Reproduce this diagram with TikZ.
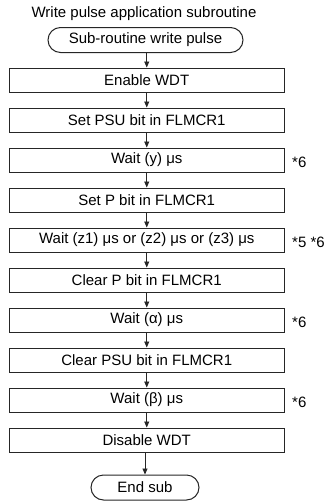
\documentclass[tikz,border=0pt]{standalone}
\usepackage{fontspec}
\setmainfont{Liberation Sans}
\usetikzlibrary{arrows.meta}
\begin{document}
\begin{tikzpicture}[x=1pt,y=-1pt,
  every node/.style={font=\fontsize{15}{17}\selectfont, inner sep=0pt},
  stepbox/.style={draw=black!85, line width=1pt, minimum width=274.5pt, minimum height=24pt},
  term/.style={draw=black!85, line width=1pt, rounded corners=12.5pt, minimum height=25pt},
  note/.style={anchor=west},
  flow/.style={draw=black!85, line width=0.9pt, -{Triangle[length=6pt,width=5pt]}}]
\useasboundingbox (0,0) rectangle (328,501);
\node (title) at (144,14) {Write pulse application subroutine};
\node[term, minimum width=195pt] (start) at (145.5,40) {Sub-routine write pulse};
\node[stepbox] (b1) at (146.75,80) {Enable WDT};
\node[stepbox] (b2) at (146.75,120) {Set PSU bit in FLMCR1};
\node[stepbox] (b3) at (146.75,160) {Wait (y) μs};
\node[stepbox] (b4) at (146.75,200) {Set P bit in FLMCR1};
\node[stepbox] (b5) at (146.75,240) {Wait (z1) μs or (z2) μs or (z3) μs};
\node[stepbox] (b6) at (146.75,280) {Clear P bit in FLMCR1};
\node[stepbox] (b7) at (146.75,320) {Wait (α) μs};
\node[stepbox] (b8) at (146.75,360) {Clear PSU bit in FLMCR1};
\node[stepbox] (b9) at (146.75,400) {Wait (β) μs};
\node[stepbox] (b10) at (146.75,440) {Disable WDT};
\node[term, minimum width=108pt] (end) at (145,487.5) {End sub};
\node[note] (n3) at (292,162) {*6};
\node[note] (n5) at (292,242) {*5 *6};
\node[note] (n7) at (292,322) {*6};
\node[note] (n9) at (292,402) {*6};
\draw[flow] (start.south -| b1.north) -- (b1.north);
\foreach \a/\b in {b1/b2,b2/b3,b3/b4,b4/b5,b5/b6,b6/b7,b7/b8,b8/b9,b9/b10}
  \draw[flow] (\a.south) -- (\b.north);
\draw[flow] (b10.south -| end.north) -- (end.north);
\end{tikzpicture}
\end{document}
